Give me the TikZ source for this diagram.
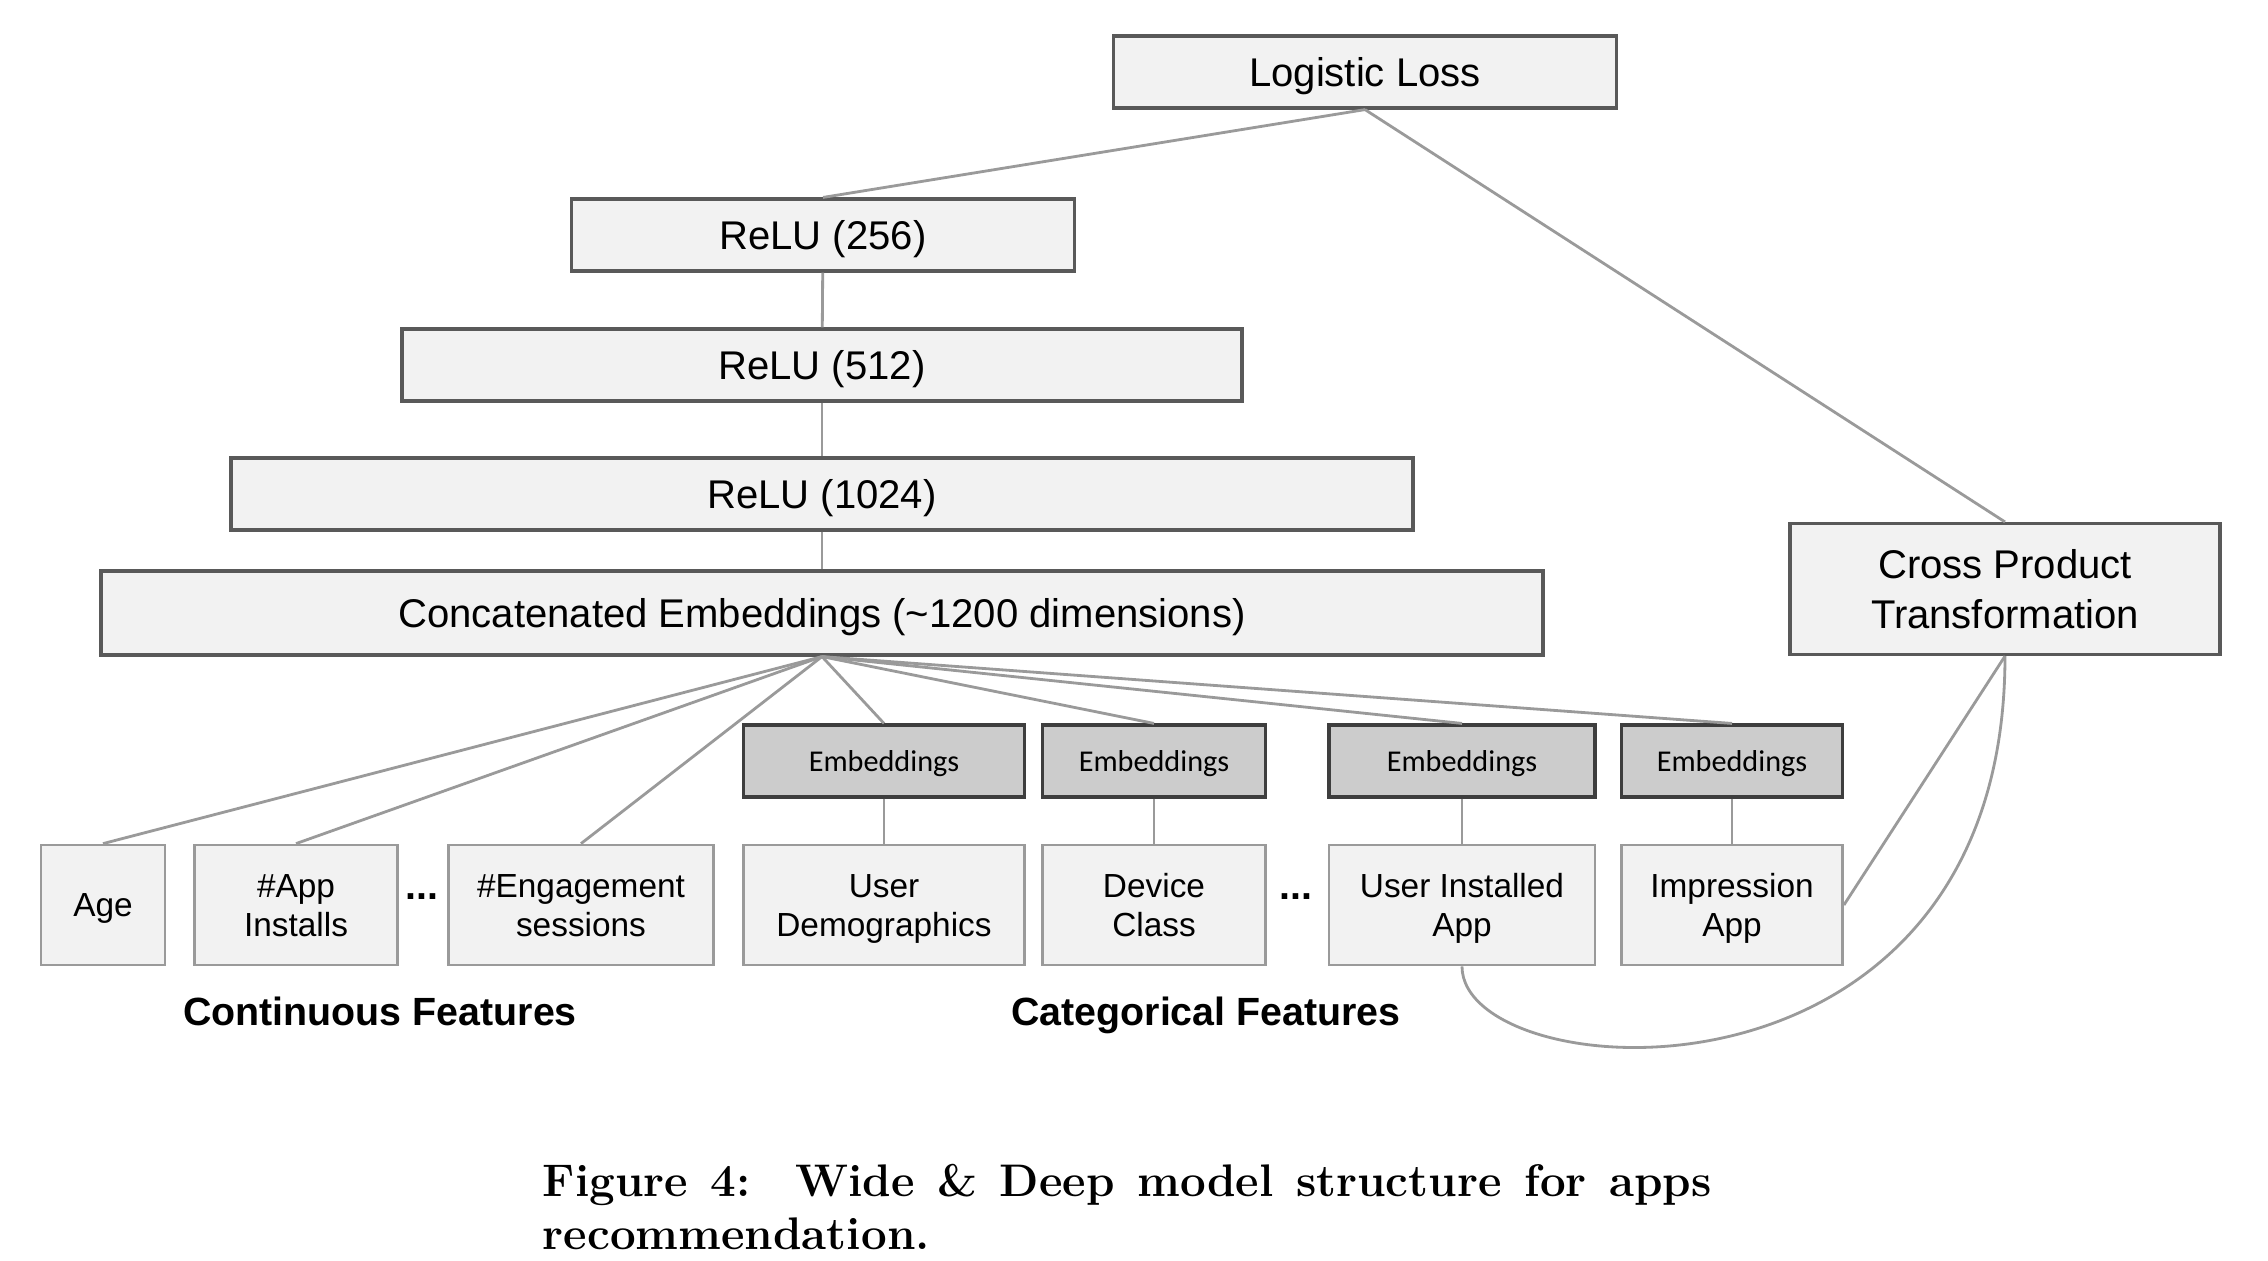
\documentclass[tikz,border=0pt]{standalone}
\usepackage{fontspec}
\newfontfamily\sansfont{Liberation Sans}
\newfontfamily\embfont{Carlito}
\usepackage{tikz}
\usetikzlibrary{positioning}
\definecolor{boxfill}{HTML}{F2F2F2}
\definecolor{embfill}{HTML}{CCCCCC}
\definecolor{boxline}{HTML}{595959}
\definecolor{linkgray}{HTML}{9A9A9A}
\tikzset{
  layer/.style={draw=boxline, fill=boxfill, line width=0.9pt, inner sep=0pt, text depth=0pt,
    minimum height=0.72cm, align=center, font=\sansfont\fontsize{11.4}{14}\selectfont},
  embed/.style={draw=boxline!70!black, fill=embfill, line width=0.9pt, inner sep=0pt, text depth=0pt,
    minimum height=0.72cm, font=\embfont\fontsize{8.6}{10}\selectfont},
  feature/.style={draw=linkgray, fill=boxfill, line width=0.8pt, inner sep=0pt, text depth=0pt,
    minimum height=1.2cm, align=center, font=\sansfont\fontsize{9.5}{11.1}\selectfont},
  link/.style={draw=linkgray, line width=0.8pt},
  group/.style={inner sep=0pt, text depth=0pt, font=\sansfont\bfseries\fontsize{11.2}{13}\selectfont}
}

\begin{document}
\begin{tikzpicture}
	\useasboundingbox (0,0) rectangle (22.68,-12.60);
	% deep part
	\node (loss) [layer, minimum width=5.03cm] at (13.65,-0.72) {Logistic Loss};
	\node (relu1) [layer, minimum width=5.03cm] at (8.23,-2.35) {ReLU (256)};
	\node (relu2) [layer, minimum width=8.40cm] at (8.22,-3.65) {ReLU (512)};
	\node (relu3) [layer, minimum width=11.82cm] at (8.22,-4.94) {ReLU (1024)};
	\node (concat) [layer, minimum width=14.42cm, minimum height=0.84cm] at (8.22,-6.13)
		{Concatenated Embeddings (\textasciitilde1200 dimensions)};
	% wide part
	\node (cross) [layer, minimum width=4.30cm, minimum height=1.31cm] at (20.05,-5.89)
		{Cross Product\\Transformation};
	% embeddings
	\node (emb1) [embed, minimum width=2.81cm] at (8.84,-7.61) {Embeddings};
	\node (emb2) [embed, minimum width=2.23cm] at (11.54,-7.61) {Embeddings};
	\node (emb3) [embed, minimum width=2.66cm] at (14.62,-7.61) {Embeddings};
	\node (emb4) [embed, minimum width=2.21cm] at (17.32,-7.61) {Embeddings};
	% input features
	\node (age) [feature, minimum width=1.24cm] at (1.03,-9.05) {Age};
	\node (installs) [feature, minimum width=2.03cm] at (2.96,-9.05) {\#App\\Installs};
	\node (sessions) [feature, minimum width=2.65cm] at (5.81,-9.05) {\#Engagement\\sessions};
	\node (demo) [feature, minimum width=2.81cm] at (8.84,-9.05) {User\\Demographics};
	\node (device) [feature, minimum width=2.23cm] at (11.54,-9.05) {Device\\Class};
	\node (installed) [feature, minimum width=2.66cm] at (14.62,-9.05) {User Installed\\App};
	\node (impression) [feature, minimum width=2.21cm] at (17.32,-9.05) {Impression\\App};
	\node (dots1) [group] at (4.22,-8.97) {...};
	\node (dots2) [group] at (12.96,-8.97) {...};
	\node (contlabel) [group] at (3.80,-10.11) {Continuous Features};
	\node (catlabel) [group] at (12.06,-10.11) {Categorical Features};
	% caption
	\node (caption) [anchor=north west, inner sep=0pt, text width=11.69cm, align=justify,
		font=\bfseries\fontsize{13}{14.9}\selectfont] at (5.42,-11.64)
		{Figure 4:\ \ Wide \& Deep model structure for apps\linebreak recommendation.};
	\path[link]
		(loss.south) edge (relu1.north)
		(loss.south) edge (cross.north)
		(relu1) edge (relu2)
		(relu2) edge (relu3)
		(relu3) edge (concat)
		(concat.south) edge (age.north)
		(concat.south) edge (installs.north)
		(concat.south) edge (sessions.north)
		(concat.south) edge (emb1.north)
		(concat.south) edge (emb2.north)
		(concat.south) edge (emb3.north)
		(concat.south) edge (emb4.north)
		(emb1) edge (demo)
		(emb2) edge (device)
		(emb3) edge (installed)
		(emb4) edge (impression)
		(cross.south) edge (impression.east);
	\draw[link] (installed.south) .. controls (14.62,-10.9) and (20.05,-11.3) .. (cross.south);
\end{tikzpicture}
\end{document}
